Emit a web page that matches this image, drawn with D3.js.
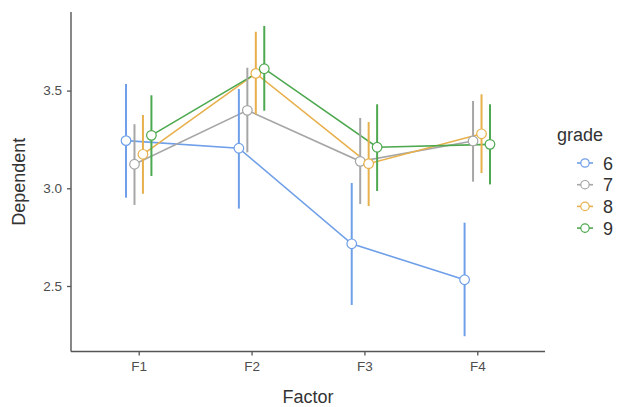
<!DOCTYPE html>
<html>
<head>
<meta charset="utf-8">
<script src="https://cdn.jsdelivr.net/npm/d3@7"></script>
<style>
  body { margin: 0; background: #fff; }
  svg { display: block; font-family: "Liberation Sans", Arial, sans-serif; }
</style>
</head>
<body>
<svg id="chart" width="622" height="407"></svg>
<script>
const categories = ["F1", "F2", "F3", "F4"];
const grades = ["6", "7", "8", "9"];
const colors = ["#6f9fe8", "#a6a6a6", "#e8b04c", "#4ea84f"];
const yTicks = [2.5, 3.0, 3.5];

const mean6 = [3.244, 3.205, 2.716, 2.532];
const low6  = [2.952, 2.896, 2.403, 2.243];
const high6 = [3.534, 3.508, 3.027, 2.824];

const mean7 = [3.123, 3.399, 3.138, 3.242];
const low7  = [2.915, 3.184, 2.920, 3.034];
const high7 = [3.328, 3.617, 3.360, 3.447];

const mean8 = [3.174, 3.588, 3.126, 3.279];
const low8  = [2.972, 3.379, 2.909, 3.078];
const high8 = [3.375, 3.801, 3.339, 3.481];

const mean9 = [3.271, 3.612, 3.210, 3.225];
const low9  = [3.063, 3.397, 2.986, 3.020];
const high9 = [3.476, 3.831, 3.430, 3.430];

const series = [
  { grade: grades[0], mean: mean6, low: low6, high: high6 },
  { grade: grades[1], mean: mean7, low: low7, high: high7 },
  { grade: grades[2], mean: mean8, low: low8, high: high8 },
  { grade: grades[3], mean: mean9, low: low9, high: high9 }
];

const svg = d3.select("#chart");
const pLeft = 71, pRight = 545, pTop = 12, pBottom = 351.5;

const x = d3.scalePoint().domain(categories).range([pLeft, pRight]).padding(0.6);
const y = d3.scaleLinear().domain([2.1648, 3.9022]).range([pBottom, pTop]);
const step = x.step();
const dodge = (k) => (k - (grades.length - 1) / 2) * 0.075 * step;
const axisColor = "#555";
const textColor = "#4d4d4d";

// Axes
const yAxis = svg.append("g").attr("transform", `translate(${pLeft},0)`)
  .call(d3.axisLeft(y).tickValues(yTicks).tickFormat(d3.format(".1f")).tickSize(4).tickPadding(5));
const xAxis = svg.append("g").attr("transform", `translate(0,${pBottom})`)
  .call(d3.axisBottom(x).tickSize(4).tickPadding(6));
[yAxis, xAxis].forEach(g => {
  g.select(".domain").remove();
  g.selectAll(".tick line").attr("stroke", axisColor).attr("stroke-width", 1.3);
  g.selectAll(".tick text").attr("fill", textColor).style("font-size", "13.5px");
});
svg.append("line").attr("x1", pLeft).attr("x2", pLeft).attr("y1", pTop).attr("y2", pBottom)
  .attr("stroke", axisColor).attr("stroke-width", 1.4);
svg.append("line").attr("x1", pLeft).attr("x2", pRight).attr("y1", pBottom).attr("y2", pBottom)
  .attr("stroke", axisColor).attr("stroke-width", 1.4);

// Axis titles
svg.append("text").attr("x", (pLeft + pRight) / 2).attr("y", 403)
  .attr("text-anchor", "middle").attr("fill", "#333").style("font-size", "18px").text("Factor");
svg.append("text").attr("transform", `translate(25,${(pTop + pBottom) / 2}) rotate(-90)`)
  .attr("text-anchor", "middle").attr("fill", "#333").style("font-size", "18px").text("Dependent");

const px = (k, i) => x(categories[i]) + dodge(k);

// Lines
series.forEach((s, k) => {
  const line = d3.line().x((d, i) => px(k, i)).y(d => y(d));
  svg.append("path").datum(s.mean).attr("d", line)
    .attr("fill", "none").attr("stroke", colors[k]).attr("stroke-width", 1.6);
});
// Error bars
series.forEach((s, k) => {
  svg.append("g").selectAll("line").data(categories).join("line")
    .attr("x1", (d, i) => px(k, i)).attr("x2", (d, i) => px(k, i))
    .attr("y1", (d, i) => y(s.low[i])).attr("y2", (d, i) => y(s.high[i]))
    .attr("stroke", colors[k]).attr("stroke-width", 2);
});
// Points
series.forEach((s, k) => {
  svg.append("g").selectAll("circle").data(s.mean).join("circle")
    .attr("cx", (d, i) => px(k, i)).attr("cy", d => y(d)).attr("r", 4.8)
    .attr("fill", "#fff").attr("stroke", colors[k]).attr("stroke-width", 1.2);
});

// Legend
const lg = svg.append("g");
lg.append("text").attr("x", 557).attr("y", 141).attr("fill", "#333")
  .style("font-size", "18px").text("grade");
grades.forEach((g, k) => {
  const cy = 163 + k * 21.7;
  lg.append("line").attr("x1", 577).attr("x2", 593).attr("y1", cy).attr("y2", cy)
    .attr("stroke", colors[k]).attr("stroke-width", 1.6);
  lg.append("circle").attr("cx", 585).attr("cy", cy).attr("r", 4.2)
    .attr("fill", "#fff").attr("stroke", colors[k]).attr("stroke-width", 1.2);
  lg.append("text").attr("x", 603).attr("y", cy + 6.5).attr("fill", "#333")
    .style("font-size", "18px").text(g);
});
</script>
</body>
</html>
